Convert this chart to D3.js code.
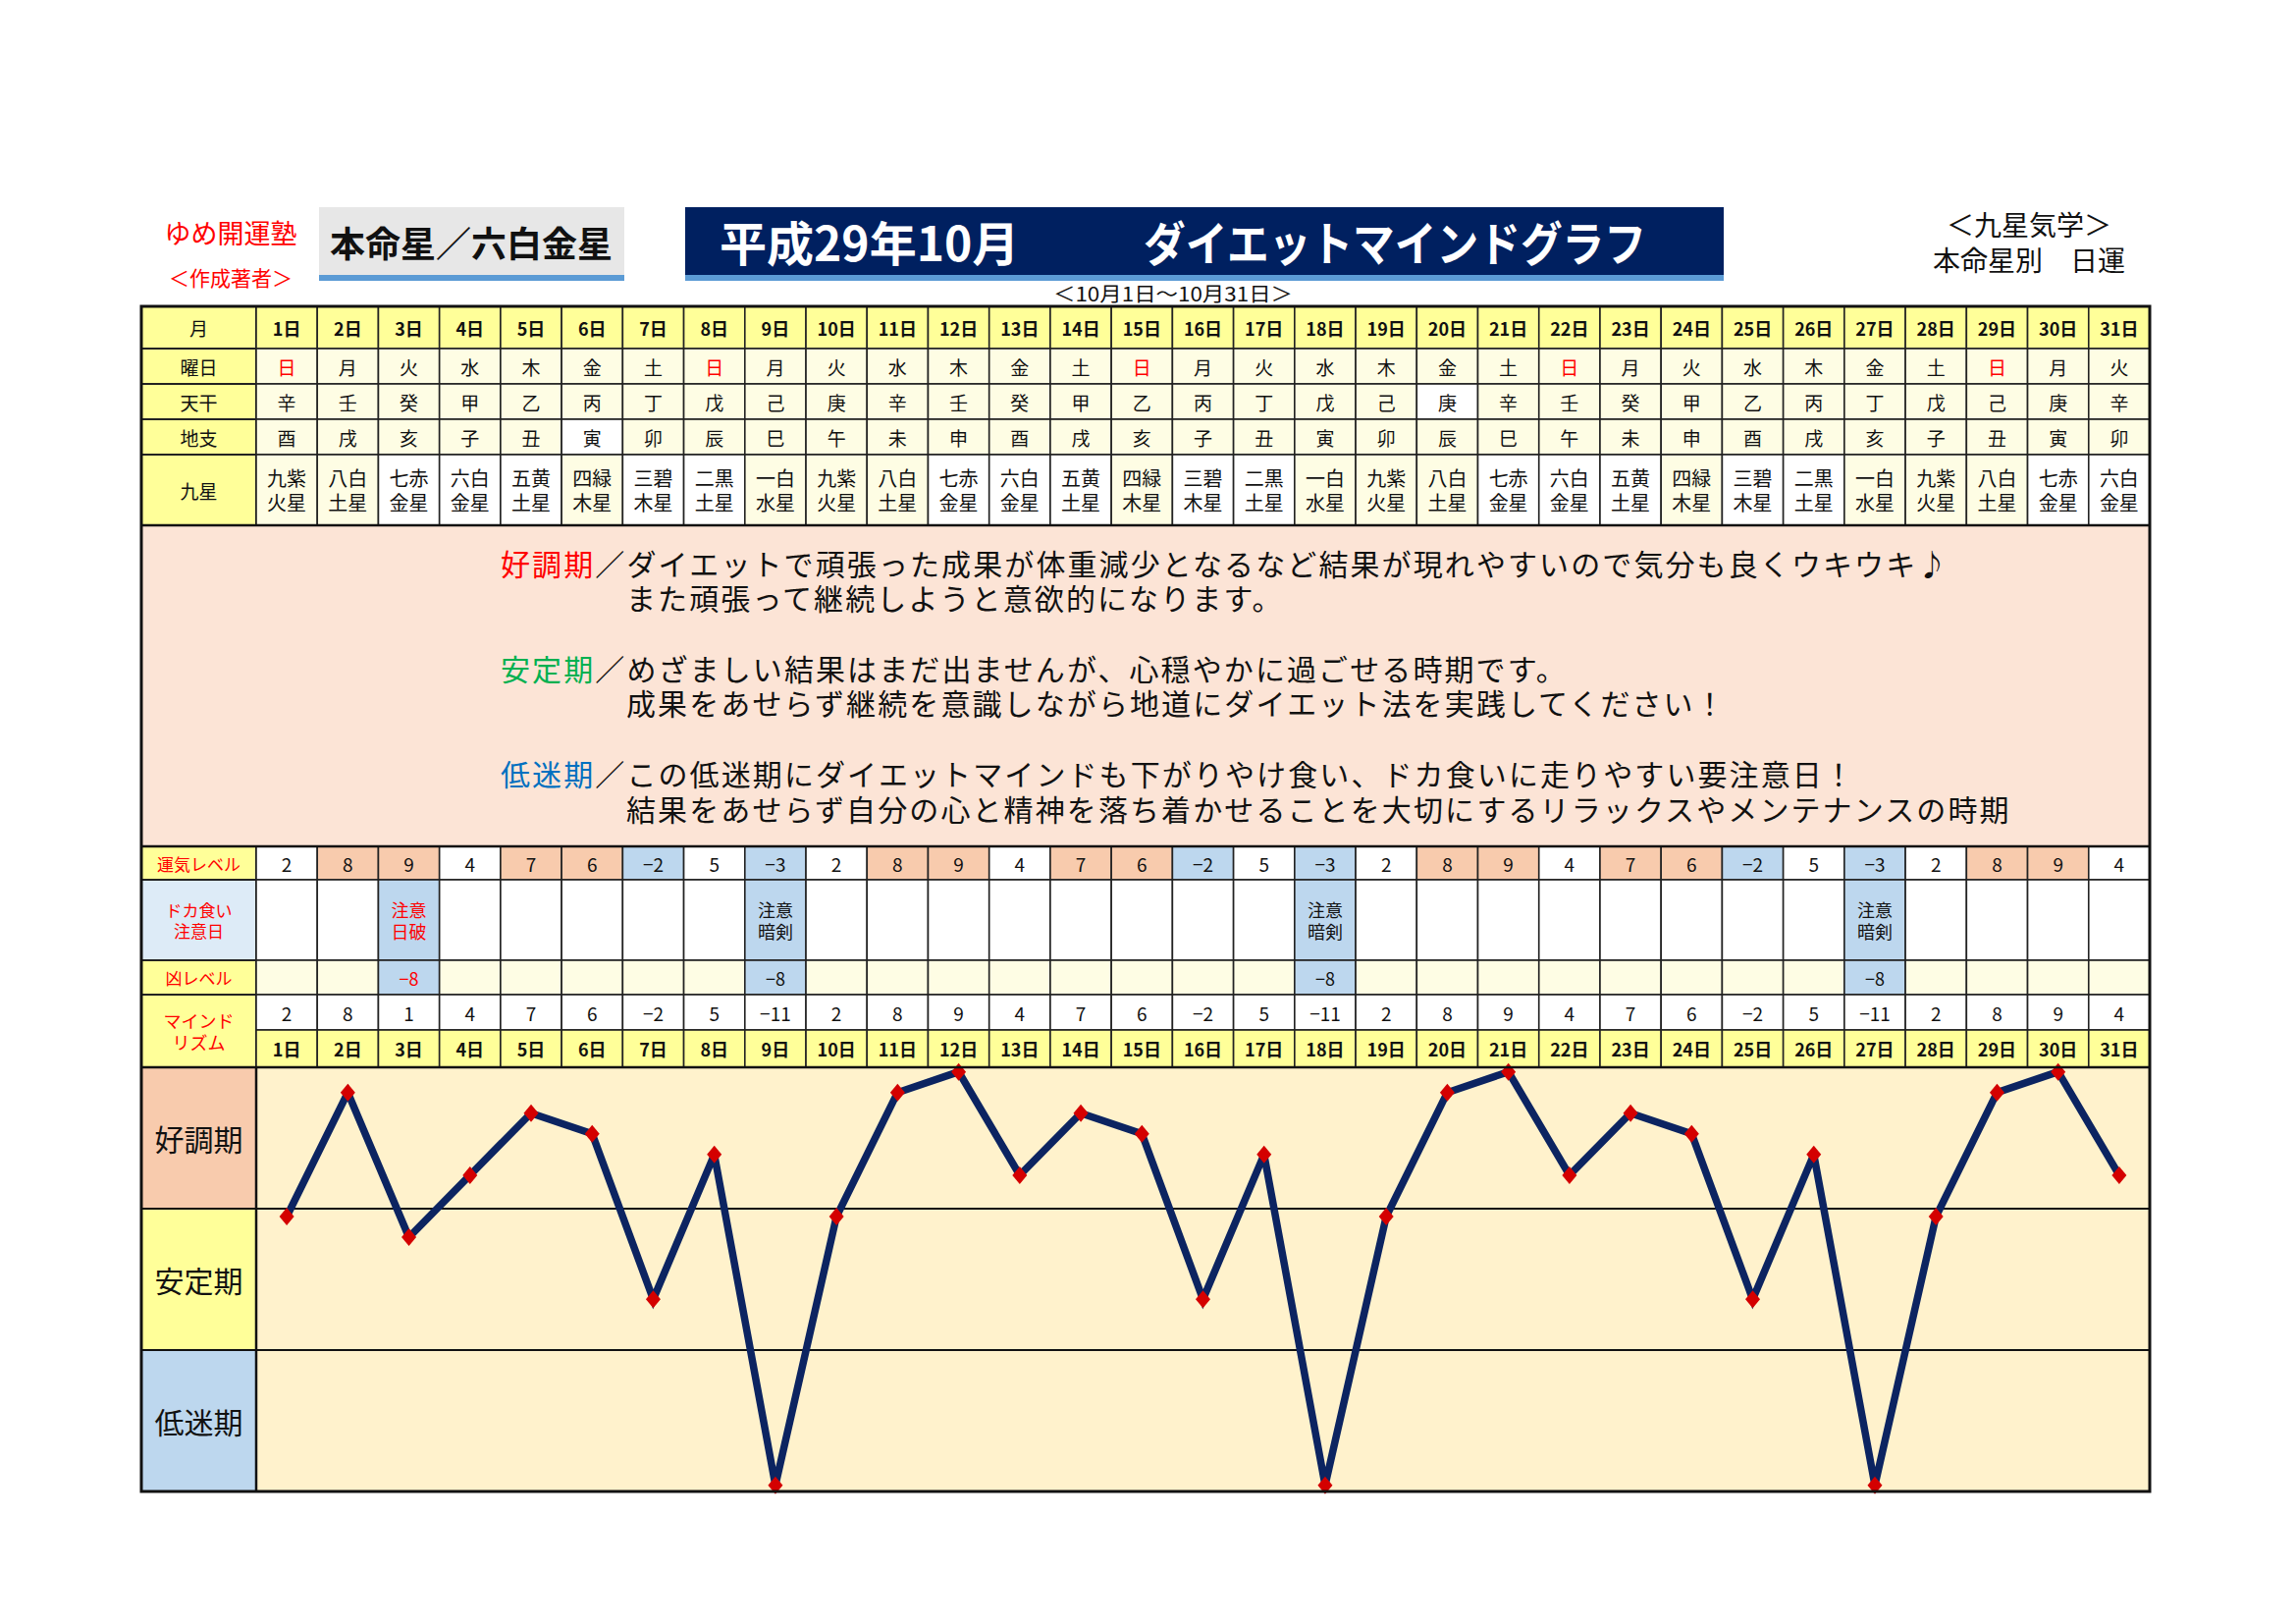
<!DOCTYPE html>
<html lang="ja">
<head>
<meta charset="utf-8">
<script src="https://cdn.jsdelivr.net/npm/d3@7"></script>
<style>
body { margin: 0; background: #fff; }
svg text { font-family: "Noto Sans CJK JP", "Noto Sans", sans-serif; }
</style>
</head>
<body>
<div id="sheet"></div>
<script>
// ---- data ----
const days = ["1日","2日","3日","4日","5日","6日","7日","8日","9日","10日","11日","12日","13日","14日","15日","16日",
  "17日","18日","19日","20日","21日","22日","23日","24日","25日","26日","27日","28日","29日","30日","31日"];
const weekdays = ["日","月","火","水","木","金","土","日","月","火","水","木","金","土","日","月",
  "火","水","木","金","土","日","月","火","水","木","金","土","日","月","火"];
const tenkan = ["辛","壬","癸","甲","乙","丙","丁","戊","己","庚","辛","壬","癸","甲","乙","丙",
  "丁","戊","己","庚","辛","壬","癸","甲","乙","丙","丁","戊","己","庚","辛"];
const chishi = ["酉","戌","亥","子","丑","寅","卯","辰","巳","午","未","申","酉","戌","亥","子",
  "丑","寅","卯","辰","巳","午","未","申","酉","戌","亥","子","丑","寅","卯"];
const kyusei = ["九紫火星","八白土星","七赤金星","六白金星","五黄土星","四緑木星","三碧木星","二黒土星","一白水星",
  "九紫火星","八白土星","七赤金星","六白金星","五黄土星","四緑木星","三碧木星","二黒土星","一白水星",
  "九紫火星","八白土星","七赤金星","六白金星","五黄土星","四緑木星","三碧木星","二黒土星","一白水星",
  "九紫火星","八白土星","七赤金星","六白金星"];
const whiteStars = ["七赤金星","六白金星","五黄土星","三碧木星","二黒土星"];
const unki = [2,8,9,4,7,6,-2,5,-3,2,8,9,4,7,6,-2,5,-3,2,8,9,4,7,6,-2,5,-3,2,8,9,4];
const cautionDays = ["3日","9日","18日","27日"];
const cautionLabels = ["日破","暗剣","暗剣","暗剣"];
const kyoLevel = [-8,-8,-8,-8];
const mind = [2,8,1,4,7,6,-2,5,-11,2,8,9,4,7,6,-2,5,-11,2,8,9,4,7,6,-2,5,-11,2,8,9,4];
const phases = ["好調期","安定期","低迷期"];
const phaseNotes = [
  ["／ダイエットで頑張った成果が体重減少となるなど結果が現れやすいので気分も良くウキウキ♪", "また頑張って継続しようと意欲的になります。"],
  ["／めざましい結果はまだ出ませんが、心穏やかに過ごせる時期です。", "成果をあせらず継続を意識しながら地道にダイエット法を実践してください！"],
  ["／この低迷期にダイエットマインドも下がりやけ食い、ドカ食いに走りやすい要注意日！", "結果をあせらず自分の心と精神を落ち着かせることを大切にするリラックスやメンテナンスの時期"]
];

// ---- layout ----
const W = 2339, H = 1654;
const L = 144, C = 261, R = 2190;
const YEL = "#ffff99", PALE = "#fefde4", ORANGE = "#f8cbad", BLUE = "#bdd7ee", RED = "#ff0000";

const svg = d3.select("#sheet").append("svg")
  .attr("width", W).attr("height", H)
  .attr("viewBox", [0, 0, W, H]);

const x = d3.scaleBand().domain(days).range([C, R]);
const bw = x.bandwidth();
const cx = d => x(d) + bw / 2;

// header
svg.append("text").attr("x", 235).attr("y", 236).attr("text-anchor", "middle")
  .attr("dominant-baseline", "central").attr("font-size", 27).attr("fill", RED).text("ゆめ開運塾");
svg.append("text").attr("x", 235).attr("y", 282).attr("text-anchor", "middle")
  .attr("dominant-baseline", "central").attr("font-size", 21).attr("fill", RED).text("＜作成著者＞");

svg.append("rect").attr("x", 325).attr("y", 211).attr("width", 311).attr("height", 70).attr("fill", "#e7e7e7");
svg.append("rect").attr("x", 325).attr("y", 280).attr("width", 311).attr("height", 6).attr("fill", "#5b9bd5");
svg.append("text").attr("x", 480).attr("y", 246).attr("text-anchor", "middle")
  .attr("dominant-baseline", "central").attr("font-size", 36).attr("font-weight", "bold")
  .attr("fill", "#111").text("本命星／六白金星");

svg.append("rect").attr("x", 698).attr("y", 211).attr("width", 1058).attr("height", 70).attr("fill", "#002060");
svg.append("rect").attr("x", 698).attr("y", 280).attr("width", 1058).attr("height", 6).attr("fill", "#5b9bd5");
svg.append("text").attr("x", 733).attr("y", 245).attr("dominant-baseline", "central")
  .attr("font-size", 48).attr("font-weight", "bold").attr("fill", "#fff").text("平成29年10月");
svg.append("text").attr("x", 1165).attr("y", 245).attr("dominant-baseline", "central")
  .attr("font-size", 48).attr("font-weight", "bold").attr("fill", "#fff")
  .attr("textLength", 512).attr("lengthAdjust", "spacingAndGlyphs").text("ダイエットマインドグラフ");

svg.append("text").attr("x", 1073).attr("y", 298).attr("dominant-baseline", "central")
  .attr("font-size", 20).attr("fill", "#111")
  .attr("textLength", 244).attr("lengthAdjust", "spacingAndGlyphs").text("＜10月1日～10月31日＞");

svg.append("text").attr("x", 2067).attr("y", 228).attr("text-anchor", "middle")
  .attr("dominant-baseline", "central").attr("font-size", 28).attr("fill", "#111").text("＜九星気学＞");
svg.append("text").attr("x", 2067).attr("y", 264).attr("text-anchor", "middle")
  .attr("dominant-baseline", "central").attr("font-size", 28).attr("fill", "#111").text("本命星別　日運");

// table helpers
const grid = svg.append("g");
const cellText = svg.append("g");

function labelCell(y0, y1, lines, fill, color, size) {
  grid.append("rect").attr("x", L).attr("y", y0).attr("width", C - L).attr("height", y1 - y0)
    .attr("fill", fill).attr("stroke", "#222").attr("stroke-width", 2);
  const lh = size * 1.2;
  lines.forEach((t, i) => {
    cellText.append("text").attr("x", (L + C) / 2)
      .attr("y", (y0 + y1) / 2 + (i - (lines.length - 1) / 2) * lh)
      .attr("text-anchor", "middle").attr("dominant-baseline", "central")
      .attr("font-size", size).attr("fill", color).text(t);
  });
}

function dayRow(y0, y1, opts) {
  const g = grid.append("g");
  g.selectAll("rect").data(days).join("rect")
    .attr("x", d => x(d)).attr("y", y0).attr("width", bw).attr("height", y1 - y0)
    .attr("fill", (d, i) => opts.fill(d, i))
    .attr("stroke", "#222").attr("stroke-width", 1.6);
  days.forEach((d, i) => {
    const lines = opts.text(d, i);
    if (!lines) return;
    const lh = opts.size * 1.22;
    lines.forEach((t, k) => {
      cellText.append("text").attr("x", cx(d))
        .attr("y", (y0 + y1) / 2 + (k - (lines.length - 1) / 2) * lh)
        .attr("text-anchor", "middle").attr("dominant-baseline", "central")
        .attr("font-size", opts.size).attr("font-weight", opts.weight || "normal")
        .attr("fill", opts.color ? opts.color(d, i) : "#111").text(t);
    });
  });
}

// top table
const rowY = [312, 355, 391, 427, 463, 535];
labelCell(rowY[0], rowY[1], ["月"], YEL, "#111", 19);
labelCell(rowY[1], rowY[2], ["曜日"], YEL, "#111", 19);
labelCell(rowY[2], rowY[3], ["天干"], YEL, "#111", 19);
labelCell(rowY[3], rowY[4], ["地支"], YEL, "#111", 19);
labelCell(rowY[4], rowY[5], ["九星"], YEL, "#111", 19);

dayRow(rowY[0], rowY[1], { fill: () => YEL, text: d => [d], size: 18, weight: "bold" });
dayRow(rowY[1], rowY[2], { fill: () => PALE, text: (d, i) => [weekdays[i]], size: 19,
  color: (d, i) => weekdays[i] === "日" ? RED : "#111" });
dayRow(rowY[2], rowY[3], { fill: d => d === "20日" ? "#fff" : PALE, text: (d, i) => [tenkan[i]], size: 19 });
dayRow(rowY[3], rowY[4], { fill: d => d === "6日" ? "#fff" : PALE, text: (d, i) => [chishi[i]], size: 19 });
dayRow(rowY[4], rowY[5], { fill: (d, i) => whiteStars.includes(kyusei[i]) ? "#fff" : PALE,
  text: (d, i) => [kyusei[i].slice(0, 2), kyusei[i].slice(2)], size: 20 });

// text area
const noteTop = 535, noteBottom = 862;
grid.append("rect").attr("x", L).attr("y", noteTop).attr("width", R - L).attr("height", noteBottom - noteTop)
  .attr("fill", "#fce4d6").attr("stroke", "#222").attr("stroke-width", 2);
const noteColors = ["#ff0000", "#00b050", "#0070c0"];
const noteY = [[573, 608], [680, 715], [787, 823]];
phases.forEach((p, i) => {
  const t = cellText.append("text").attr("x", 510).attr("y", noteY[i][0])
    .attr("dominant-baseline", "central").attr("font-size", 30).attr("letter-spacing", 2.1);
  t.append("tspan").attr("fill", noteColors[i]).text(p);
  t.append("tspan").attr("fill", "#111").text(phaseNotes[i][0]);
  cellText.append("text").attr("x", 638).attr("y", noteY[i][1])
    .attr("dominant-baseline", "central").attr("font-size", 30).attr("letter-spacing", 2.1)
    .attr("fill", "#111").text(phaseNotes[i][1]);
});

// lower table
const lowY = [862, 896, 978, 1013, 1049, 1087];
labelCell(lowY[0], lowY[1], ["運気レベル"], YEL, RED, 17);
labelCell(lowY[1], lowY[2], ["ドカ食い", "注意日"], "#ddebf7", RED, 17);
labelCell(lowY[2], lowY[3], ["凶レベル"], YEL, RED, 17);
labelCell(lowY[3], lowY[5], ["マインド", "リズム"], YEL, RED, 18);

const unkiFill = v => v >= 6 ? ORANGE : v < 0 ? BLUE : "#fff";
dayRow(lowY[0], lowY[1], { fill: (d, i) => unkiFill(unki[i]), text: (d, i) => [String(unki[i]).replace("-", "−")], size: 19 });
dayRow(lowY[1], lowY[2], {
  fill: d => cautionDays.includes(d) ? BLUE : "#fff",
  text: d => { const k = cautionDays.indexOf(d); return k < 0 ? null : ["注意", cautionLabels[k]]; },
  color: d => cautionLabels[cautionDays.indexOf(d)] === "日破" ? RED : "#111", size: 18 });
dayRow(lowY[2], lowY[3], {
  fill: d => cautionDays.includes(d) ? BLUE : PALE,
  text: d => { const k = cautionDays.indexOf(d); return k < 0 ? null : [String(kyoLevel[k]).replace("-", "−")]; },
  color: d => cautionLabels[cautionDays.indexOf(d)] === "日破" ? RED : "#111", size: 18 });
dayRow(lowY[3], lowY[4], { fill: () => "#fff", text: (d, i) => [String(mind[i]).replace("-", "−")], size: 19 });
dayRow(lowY[4], lowY[5], { fill: () => YEL, text: d => [d], size: 18, weight: "bold" });

// chart
const chartTop = 1087, chartBottom = 1519;
const y = d3.scaleLinear().domain([-11.3, 9.22]).range([chartBottom, chartTop]);
const band = d3.scaleBand().domain(phases).range([chartTop, chartBottom]);
const phaseFill = [ORANGE, YEL, BLUE];

const chart = svg.append("g");
chart.append("rect").attr("x", C).attr("y", chartTop).attr("width", R - C).attr("height", chartBottom - chartTop)
  .attr("fill", "#fff2cc");
chart.selectAll(".phase").data(phases).join("rect")
  .attr("class", "phase")
  .attr("x", L).attr("y", d => band(d)).attr("width", C - L).attr("height", band.bandwidth())
  .attr("fill", (d, i) => phaseFill[i]);
chart.selectAll(".phaseLabel").data(phases).join("text")
  .attr("class", "phaseLabel")
  .attr("x", (L + C) / 2).attr("y", d => band(d) + band.bandwidth() / 2)
  .attr("text-anchor", "middle").attr("dominant-baseline", "central")
  .attr("font-size", 30).attr("fill", "#111").text(d => d);
chart.selectAll(".sep").data(phases.slice(1)).join("line")
  .attr("class", "sep")
  .attr("x1", L).attr("x2", R).attr("y1", d => band(d)).attr("y2", d => band(d))
  .attr("stroke", "#111").attr("stroke-width", 2);
chart.append("line").attr("x1", C).attr("x2", C).attr("y1", chartTop).attr("y2", chartBottom)
  .attr("stroke", "#111").attr("stroke-width", 2.5);

const series = days.map((d, i) => ({ day: d, v: mind[i] }));
const line = d3.line().x(d => cx(d.day)).y(d => y(d.v));
chart.append("path").datum(series)
  .attr("fill", "none").attr("stroke", "#0c2461").attr("stroke-width", 7.5)
  .attr("stroke-linejoin", "miter").attr("stroke-miterlimit", 3)
  .attr("d", line);
chart.selectAll(".pt").data(series).join("path")
  .attr("class", "pt")
  .attr("transform", d => `translate(${cx(d.day)},${y(d.v)})`)
  .attr("d", "M0,-9L7.5,0L0,9L-7.5,0Z")
  .attr("fill", "#d40000");

// section borders
svg.append("rect").attr("x", L).attr("y", 312).attr("width", R - L).attr("height", 1519 - 312)
  .attr("fill", "none").attr("stroke", "#111").attr("stroke-width", 3);
[535, 862, 1087].forEach(yy => {
  svg.append("line").attr("x1", L).attr("x2", R).attr("y1", yy).attr("y2", yy)
    .attr("stroke", "#111").attr("stroke-width", 2.5);
});
</script>
</body>
</html>
